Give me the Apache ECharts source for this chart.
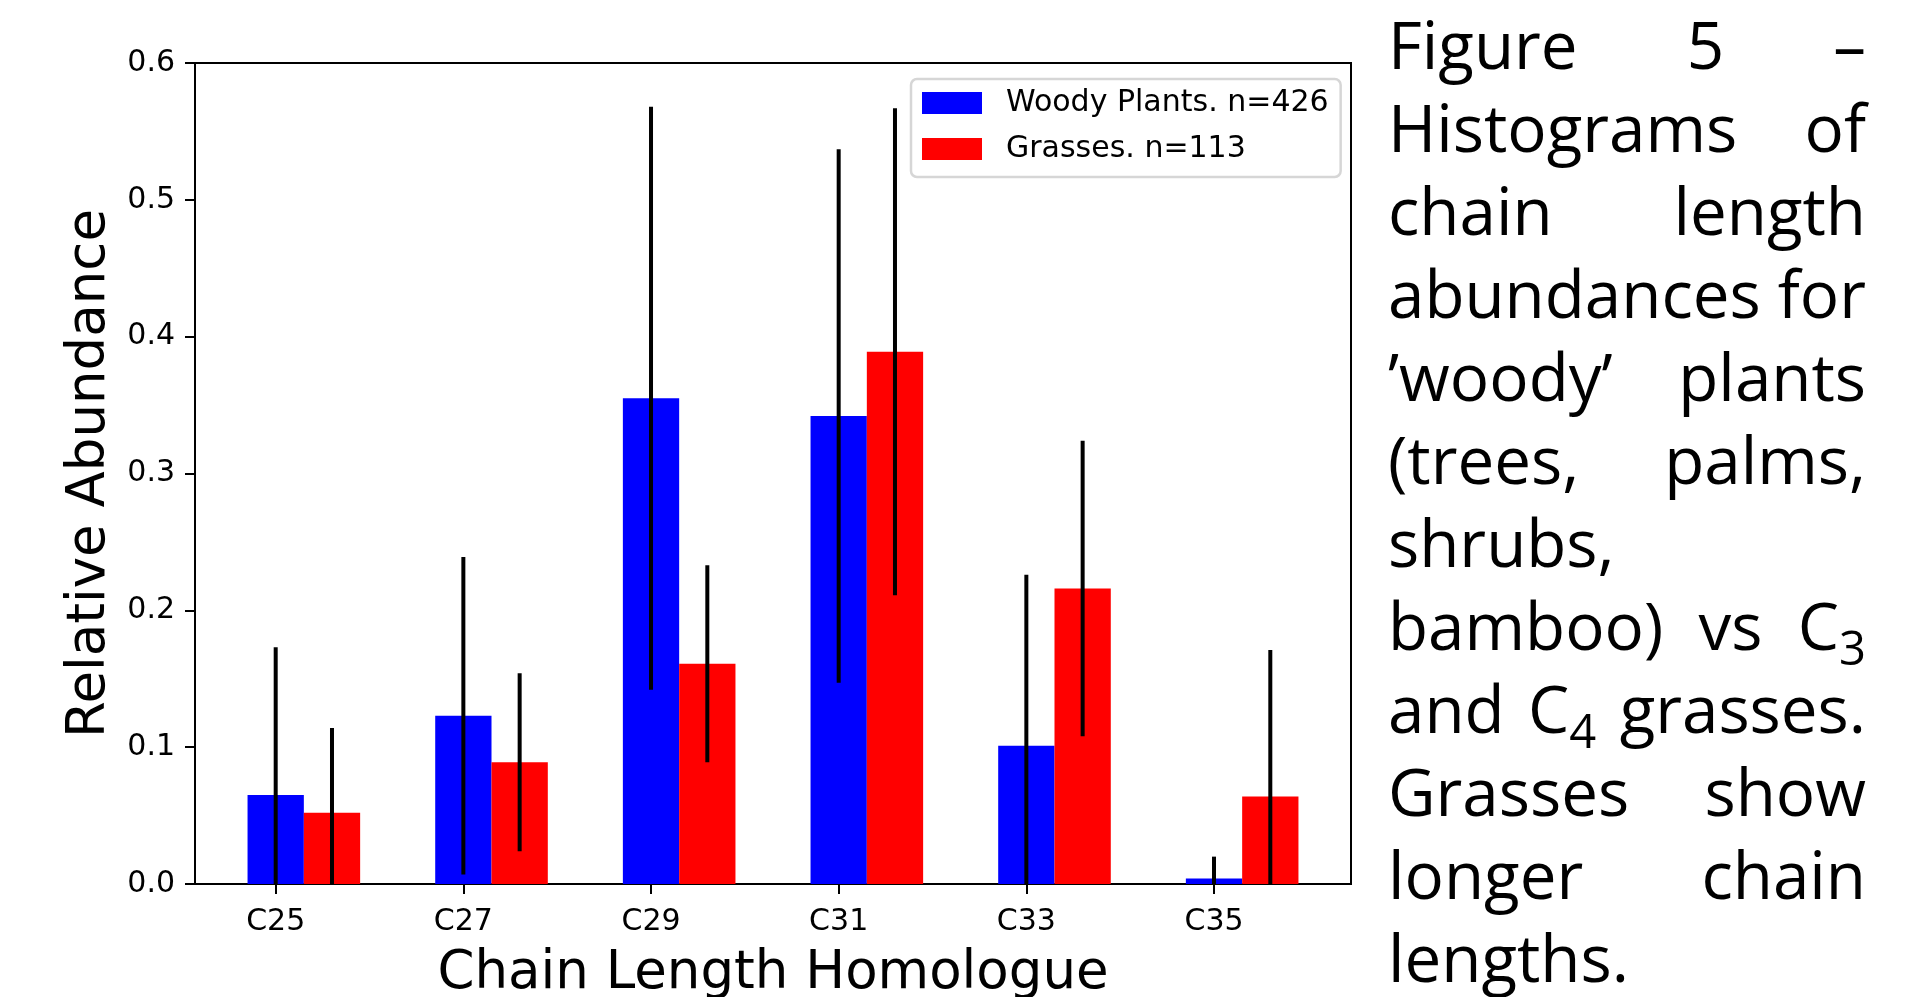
<!DOCTYPE html>
<html><head><meta charset="utf-8">
<script src="https://cdn.jsdelivr.net/npm/echarts@6/dist/echarts.min.js"></script>
<style>html,body{margin:0;padding:0;background:#fff;}#c{width:1908px;height:997px;}</style>
</head><body><div id="c"></div>
<script>
// ---- data ----
const categories = ['C25', 'C27', 'C29', 'C31', 'C33', 'C35'];
const woodyMean = [0.065, 0.123, 0.355, 0.342, 0.101, 0.004];
const woodySd   = [0.108, 0.116, 0.213, 0.195, 0.125, 0.016];
const grassMean = [0.052, 0.089, 0.161, 0.389, 0.216, 0.064];
const grassSd   = [0.062, 0.065, 0.072, 0.178, 0.108, 0.107];
const yTickLabels = ['0.0', '0.1', '0.2', '0.3', '0.4', '0.5', '0.6'];
const seriesNames = ['Woody Plants. n=426', 'Grasses. n=113'];
const xAxisTitle = 'Chain Length Homologue';
const yAxisTitle = 'Relative Abundance';
const captionLines = [
  { w: ['Figure', '5', '–'], j: true },
  { w: ['Histograms', 'of'], j: true },
  { w: ['chain', 'length'], j: true },
  { w: ['abundances', 'for'], j: true },
  { w: ['’woody’', 'plants'], j: true },
  { w: ['(trees,', 'palms,'], j: true },
  { w: ['shrubs,'], j: false },
  { w: ['bamboo)', 'vs', ['C', '3']], j: true },
  { w: ['and', ['C', '4'], 'grasses.'], j: true },
  { w: ['Grasses', 'show'], j: true },
  { w: ['longer', 'chain'], j: true },
  { w: ['lengths.'], j: false }
];

// ---- style constants ----
const BAR_W = 0.3;
const chart = echarts.init(document.getElementById('c'), null, { renderer: 'canvas' });

function barItem(offset) {
  return function (params, api) {
    const x = api.value(0), v = api.value(1);
    const p0 = api.coord([x + offset - BAR_W / 2, v]);
    const p1 = api.coord([x + offset + BAR_W / 2, 0]);
    return { type: 'rect', shape: { x: p0[0], y: p0[1], width: p1[0] - p0[0], height: p1[1] - p0[1] },
      style: { fill: api.visual('color') } };
  };
}
function errItem(offset) {
  return function (params, api) {
    const x = api.value(0) + offset, m = api.value(1), s = api.value(2);
    const a = api.coord([x, Math.max(0, m - s)]);
    const b = api.coord([x, Math.min(0.6, m + s)]);
    return { type: 'line', shape: { x1: a[0], y1: a[1], x2: b[0], y2: b[1] },
      style: { stroke: '#000', lineWidth: 4 } };
  };
}
const woodyData = woodyMean.map((v, i) => [i, v, woodySd[i]]);
const grassData = grassMean.map((v, i) => [i, v, grassSd[i]]);

// ---- caption layout ----
const CAP_L = 1388, CAP_R = 1866, BASE0 = 69, STEP = 83, FS0 = 67, SUB = 0.72, SUB_DROP = 15;
const FONT = 'Open Sans', FW = 400;
const cv = document.createElement('canvas').getContext('2d');
function setFont(fs) { cv.font = FW + ' ' + fs + 'px "' + FONT + '"'; }
function tw(t, fs) { setFont(fs); return cv.measureText(t).width; }
function wordW(w, fs) { return Array.isArray(w) ? tw(w[0], fs) + tw(w[1], fs * SUB) : tw(w, fs); }
let fs = FS0;
captionLines.forEach(l => {
  if (!l.j) return;
  const sp = tw(' ', 1);
  const natural = l.w.reduce((s, w) => s + wordW(w, 1), 0) + sp * (l.w.length - 1);
  fs = Math.min(fs, (CAP_R - CAP_L) / natural);
});
function midOffset(size) {
  setFont(size); cv.textBaseline = 'middle';
  const m = cv.measureText('H'); cv.textBaseline = 'alphabetic';
  return m.actualBoundingBoxDescent;
}
const off = midOffset(fs), offSub = midOffset(fs * SUB);
const graphics = [];
captionLines.forEach((l, li) => {
  const base = BASE0 + STEP * li;
  const widths = l.w.map(w => wordW(w, fs));
  const total = widths.reduce((a, b) => a + b, 0);
  const gap = (l.j && l.w.length > 1) ? (CAP_R - CAP_L - total) / (l.w.length - 1) : tw(' ', fs);
  let x = CAP_L;
  l.w.forEach((w, wi) => {
    const main = Array.isArray(w) ? w[0] : w;
    graphics.push({ type: 'text', x: x, y: base - off, silent: true,
      style: { text: main, fontFamily: FONT, fontSize: fs, fontWeight: FW, fill: '#000', align: 'left', verticalAlign: 'middle' } });
    if (Array.isArray(w)) {
      graphics.push({ type: 'text', x: x + tw(w[0], fs), y: base + SUB_DROP - offSub, silent: true,
        style: { text: w[1], fontFamily: FONT, fontSize: fs * SUB, fontWeight: FW, fill: '#000', align: 'left', verticalAlign: 'middle' } });
    }
    x += widths[wi] + gap;
  });
});

const AX = { color: '#000', width: 2 };
chart.setOption({
  animation: false,
  backgroundColor: '#fff',
  textStyle: { fontFamily: 'DejaVu Sans' },
  grid: { left: 195, top: 63, width: 1156, height: 821, outerBoundsMode: 'none', containLabel: false,
    show: true, borderColor: '#000', borderWidth: 2, backgroundColor: 'transparent' },
  xAxis: {
    type: 'value', min: -0.43, max: 5.73,
    name: xAxisTitle, nameLocation: 'middle', nameGap: 64,
    nameTextStyle: { fontFamily: 'DejaVu Sans', fontSize: 53, color: '#000' },
    axisLine: { show: true, onZero: false, lineStyle: AX },
    axisTick: { show: true, length: 10, lineStyle: AX, customValues: categories.map((c, i) => i) },
    axisLabel: { show: true, fontFamily: 'DejaVu Sans', fontSize: 30, color: '#000', margin: 23,
      customValues: categories.map((c, i) => i), formatter: v => categories[Math.round(v)] },
    splitLine: { show: false }
  },
  yAxis: {
    type: 'value', min: 0, max: 0.6, interval: 0.1,
    name: yAxisTitle, nameLocation: 'middle', nameGap: 78,
    nameTextStyle: { fontFamily: 'DejaVu Sans', fontSize: 53, color: '#000' },
    axisLine: { show: true, onZero: false, lineStyle: AX },
    axisTick: { show: true, length: 10, lineStyle: AX },
    axisLabel: { fontFamily: 'DejaVu Sans', fontSize: 30, color: '#000', margin: 20,
      formatter: v => yTickLabels[Math.round(v * 10)] },
    splitLine: { show: false }
  },
  legend: {
    orient: 'vertical', left: 911, top: 79,
    itemWidth: 60, itemHeight: 22, itemGap: 16,
    padding: [9, 12, 13, 11],
    borderColor: '#d6d6d6', borderWidth: 2.5, borderRadius: 6,
    backgroundColor: 'rgba(255,255,255,0.8)',
    textStyle: { fontFamily: 'DejaVu Sans', fontSize: 30, color: '#000', padding: [0, 0, 0, 19] },
    data: seriesNames.map(n => ({ name: n, icon: 'rect' }))
  },
  series: [
    { type: 'custom', name: seriesNames[0], renderItem: barItem(0), data: woodyData, itemStyle: { color: '#0000ff' }, encode: { x: 0, y: 1 }, z: 2 },
    { type: 'custom', name: seriesNames[1], renderItem: barItem(BAR_W), data: grassData, itemStyle: { color: '#ff0000' }, encode: { x: 0, y: 1 }, z: 2 },
    { type: 'custom', name: 'err1', renderItem: errItem(0), data: woodyData, encode: { x: 0, y: 1 }, z: 3 },
    { type: 'custom', name: 'err2', renderItem: errItem(BAR_W), data: grassData, encode: { x: 0, y: 1 }, z: 3 }
  ],
  graphic: graphics
});
</script></body></html>
